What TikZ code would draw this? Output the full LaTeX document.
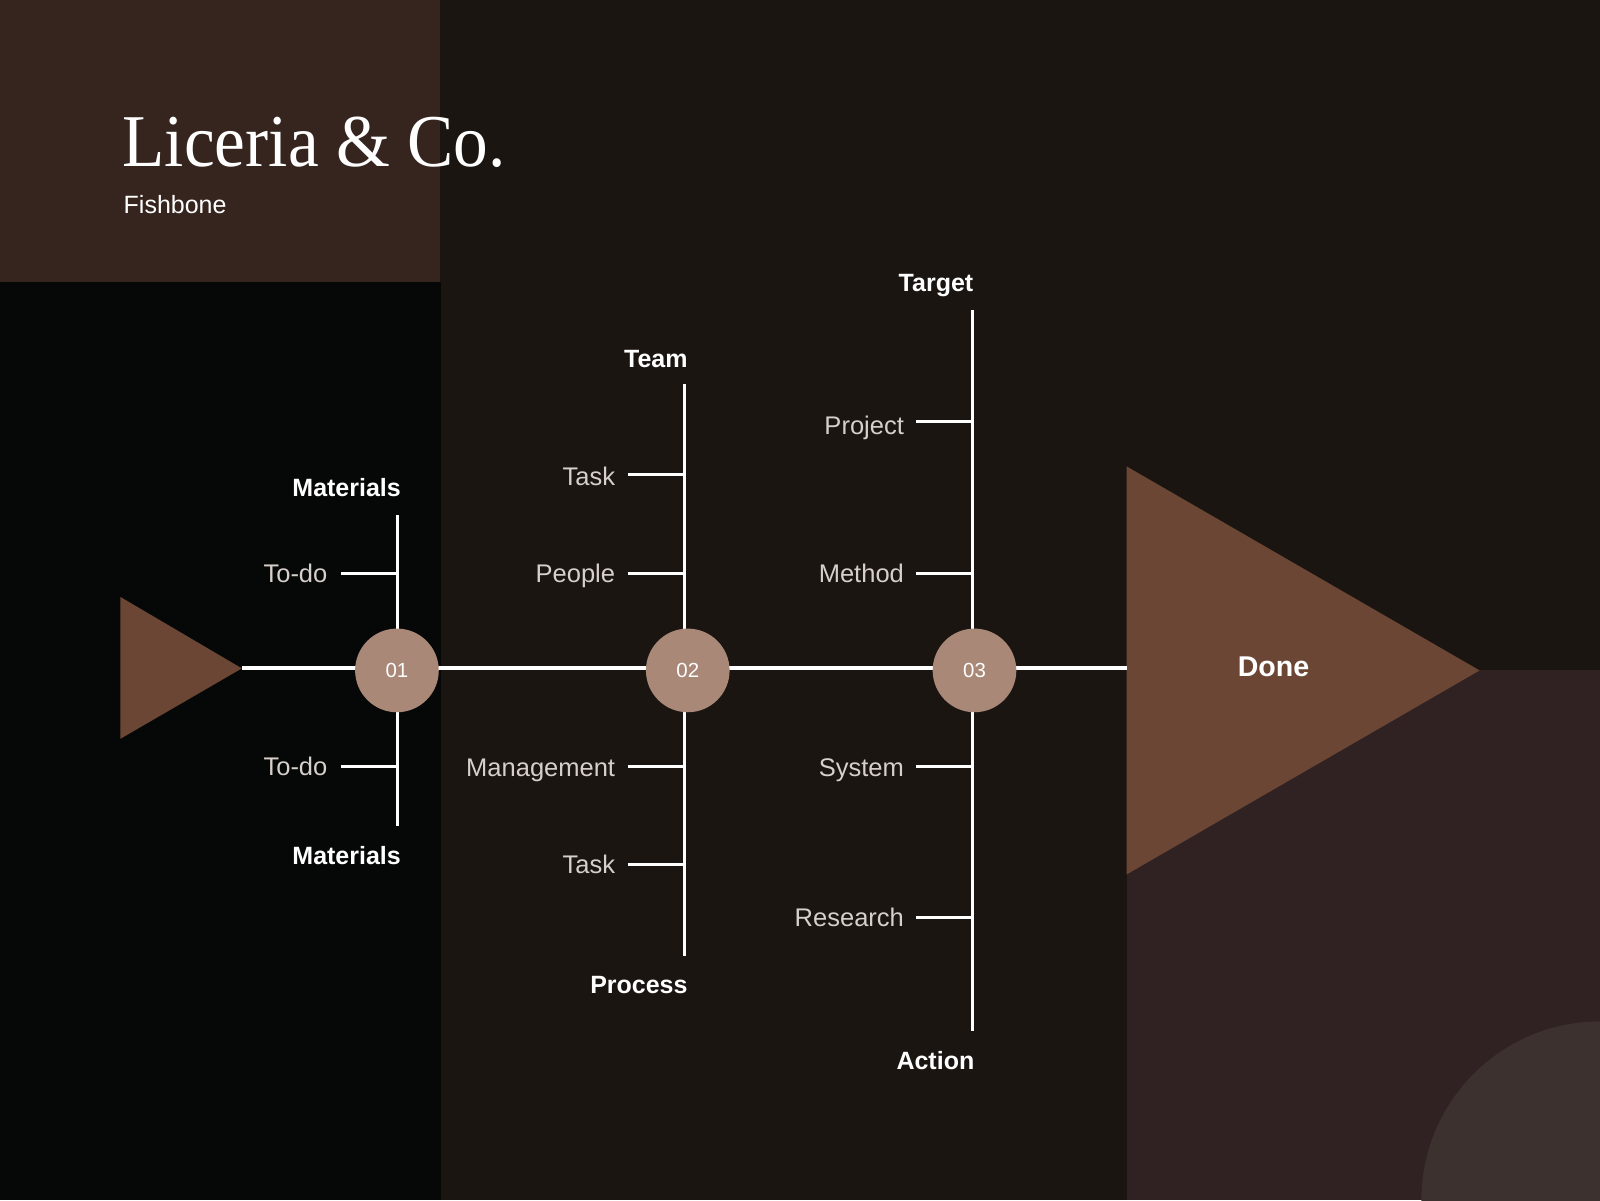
\documentclass[tikz,border=0pt]{standalone}
\usepackage{fontspec}
\setmainfont{Liberation Sans}
\newfontfamily\titlefont{Liberation Serif}
\definecolor{bgmid}{HTML}{1A1511}
\definecolor{paneltl}{HTML}{36251E}
\definecolor{leftdark}{HTML}{060807}
\definecolor{panelbr}{HTML}{302222}
\definecolor{quartc}{HTML}{3D3130}
\definecolor{tribrown}{HTML}{6B4634}
\definecolor{circfill}{HTML}{A98878}
\definecolor{labgray}{HTML}{D6CFCB}
\tikzset{
  bone/.style={draw=white, line width=3pt},
  spine/.style={draw=white, line width=4pt},
  lab/.style={text=labgray, font=\fontsize{25}{29}\selectfont, inner sep=0pt, anchor=base east},
  head/.style={text=white, font=\fontsize{24.5}{28}\selectfont\bfseries, inner sep=0pt, anchor=base east},
  numcirc/.style={circle, fill=circfill, minimum size=82pt, inner sep=0pt, text=white, font=\fontsize{20}{24}\selectfont}
}
\begin{document}
\begin{tikzpicture}[x=1pt,y=-1pt]
\useasboundingbox (0,0) rectangle (1568,1176);
% backgrounds
\fill[bgmid] (0,0) rectangle (1568,1176);
\fill[paneltl] (0,0) rectangle (431,276);
\fill[leftdark] (0,276) rectangle (432,1176);
\fill[panelbr] (1104,657) rectangle (1568,1176);
\begin{scope}
\clip (1104,657) rectangle (1568,1176);
\fill[quartc] (1568,1176) circle (175);
\end{scope}
% title
\node[text=white, inner sep=0pt, anchor=base west] (title) at (120,163)
  {\scalebox{0.93}[1]{\titlefont\fontsize{73}{76}\selectfont Liceria \& Co.}};
\node[text=white, inner sep=0pt, anchor=base west, font=\fontsize{24.5}{28}\selectfont] (sub) at (121,209) {Fishbone};
% triangles
\fill[tribrown] (118,585) -- (118,724) -- (237,655) -- cycle;
\coordinate (tail) at (237,655);
\fill[tribrown] (1104,457) -- (1104,857) -- (1450,657) -- cycle;
\coordinate (head) at (1104,655);
% spine
\draw[spine] (tail) -- (head);
% bone coordinates
\coordinate (b1t) at (390,505); \coordinate (b1b) at (390,809);
\coordinate (b2t) at (671,376); \coordinate (b2b) at (671,937);
\coordinate (b3t) at (953,304); \coordinate (b3b) at (953,1010);
\draw[bone] (b1t) -- (b1b);
\draw[bone] (b2t) -- (b2b);
\draw[bone] (b3t) -- (b3b);
% circles
\node[numcirc] (c1) at (389,657) {01};
\node[numcirc] (c2) at (674,657) {02};
\node[numcirc] (c3) at (955,657) {03};
% headings
\node[head] (h1t) at (393,487) {Materials};
\node[head] (h1b) at (393,847) {Materials};
\node[head] (h2t) at (674,360) {Team};
\node[head] (h2b) at (674,974) {Process};
\node[head] (h3t) at (954,286) {Target};
\node[head] (h3b) at (955,1048) {Action};
% bone 1 ticks
\node[lab] (l11) at (321,571) {To-do};
\coordinate (k11) at (334,562); \draw[bone] (k11) -- (k11 -| b1t);
\node[lab] (l12) at (321,760) {To-do};
\coordinate (k12) at (334,751); \draw[bone] (k12) -- (k12 -| b1t);
% bone 2 ticks
\node[lab] (l21) at (603,476) {Task};
\coordinate (k21) at (615,465); \draw[bone] (k21) -- (k21 -| b2t);
\node[lab] (l22) at (603,571) {People};
\coordinate (k22) at (615,562); \draw[bone] (k22) -- (k22 -| b2t);
\node[lab] (l23) at (603,761) {Management};
\coordinate (k23) at (615,751); \draw[bone] (k23) -- (k23 -| b2t);
\node[lab] (l24) at (603,856) {Task};
\coordinate (k24) at (615,847); \draw[bone] (k24) -- (k24 -| b2t);
% bone 3 ticks
\node[lab] (l31) at (886,426) {Project};
\coordinate (k31) at (898,413); \draw[bone] (k31) -- (k31 -| b3t);
\node[lab] (l32) at (886,571) {Method};
\coordinate (k32) at (898,562); \draw[bone] (k32) -- (k32 -| b3t);
\node[lab] (l33) at (886,761) {System};
\coordinate (k33) at (898,751); \draw[bone] (k33) -- (k33 -| b3t);
\node[lab] (l34) at (886,908) {Research};
\coordinate (k34) at (898,899); \draw[bone] (k34) -- (k34 -| b3t);
% done
\node[text=white, inner sep=0pt, font=\fontsize{28}{32}\selectfont\bfseries] (done) at (1248,653) {Done};
\end{tikzpicture}
\end{document}
